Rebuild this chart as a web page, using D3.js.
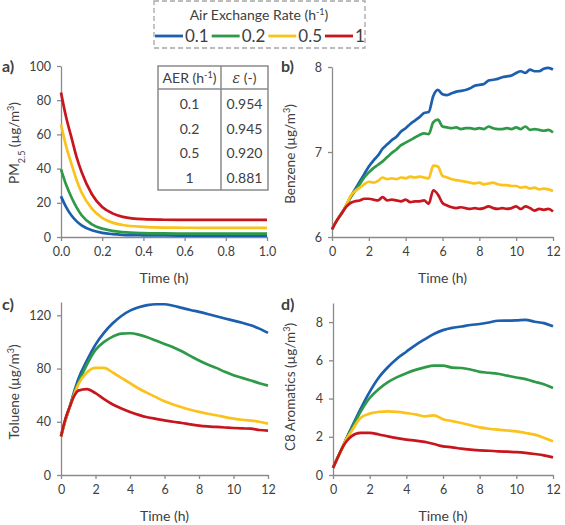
<!DOCTYPE html>
<html>
<head>
<meta charset="utf-8">
<script src="https://cdn.jsdelivr.net/npm/d3@7"></script>
<style>
  body { margin: 0; background: #fff; }
  text { font-family: Lato, "Open Sans", sans-serif; fill: #404040; font-weight: 400; }
</style>
</head>
<body>
<div id="output"></div>
<script>
// Series names / colours
const AER_LABELS = ["0.1", "0.2", "0.5", "1"];
const AER_COLORS = ["#1c5fae", "#2e9a48", "#fbc21c", "#c8161f"];

// Table in panel a
const TABLE_AER = ["0.1", "0.2", "0.5", "1"];
const TABLE_EPS = ["0.954", "0.945", "0.920", "0.881"];

// a) PM2.5 (0..1 h)
const TIME_A = [0, 0.025, 0.05, 0.075, 0.1, 0.15, 0.2, 0.25, 0.3, 0.4, 0.5, 0.6, 0.8, 1.0];
const PM_01 = [23.8, 17.5, 12.7, 9.3, 6.8, 3.9, 2.4, 1.7, 1.3, 1.0, 0.9, 0.8, 0.8, 0.8];
const PM_02 = [39.6, 30.5, 23.4, 17.5, 12.7, 7.4, 4.9, 3.6, 2.9, 2.3, 2.1, 2.0, 2.0, 2.0];
const PM_05 = [65.8, 53, 43, 33.5, 26, 16.6, 11.2, 8.4, 7.0, 5.9, 5.5, 5.4, 5.3, 5.3];
const PM_1 = [84.5, 70, 58.5, 47, 38, 25, 17.5, 13.8, 11.8, 10.4, 10.1, 10.0, 10.0, 10.0];

// b) Benzene (0..12 h, every 0.25 h)
const TIME_B = [0, 0.25, 0.5, 0.75, 1, 1.25, 1.5, 1.75, 2, 2.25, 2.5, 2.75, 3, 3.25, 3.5, 3.75,
  4, 4.25, 4.5, 4.75, 5, 5.25, 5.5, 5.75, 6, 6.25, 6.5, 6.75, 7, 7.25, 7.5, 7.75,
  8, 8.25, 8.5, 8.75, 9, 9.25, 9.5, 9.75, 10, 10.25, 10.5, 10.75, 11, 11.25, 11.5, 11.75, 12];
const BZ_01 = [6.09, 6.19, 6.27, 6.36, 6.47, 6.56, 6.65, 6.74, 6.83, 6.90, 6.96, 7.04, 7.09, 7.14, 7.18, 7.24,
  7.28, 7.33, 7.37, 7.41, 7.46, 7.47, 7.66, 7.73, 7.68, 7.67, 7.69, 7.71, 7.72, 7.73, 7.75, 7.78,
  7.79, 7.80, 7.84, 7.85, 7.86, 7.88, 7.89, 7.90, 7.93, 7.95, 7.93, 7.97, 7.95, 7.95, 7.98, 7.99, 7.97];
const BZ_02 = [6.09, 6.19, 6.27, 6.36, 6.46, 6.54, 6.62, 6.70, 6.76, 6.81, 6.85, 6.89, 6.94, 6.99, 7.03, 7.08,
  7.11, 7.14, 7.17, 7.20, 7.22, 7.21, 7.35, 7.38, 7.30, 7.29, 7.28, 7.29, 7.27, 7.28, 7.28, 7.27,
  7.28, 7.27, 7.30, 7.28, 7.27, 7.27, 7.28, 7.27, 7.29, 7.27, 7.30, 7.26, 7.27, 7.26, 7.25, 7.26, 7.23];
const BZ_05 = [6.09, 6.19, 6.27, 6.36, 6.48, 6.54, 6.58, 6.62, 6.65, 6.64, 6.66, 6.70, 6.68, 6.69, 6.68, 6.70,
  6.69, 6.71, 6.70, 6.71, 6.70, 6.69, 6.84, 6.83, 6.72, 6.70, 6.68, 6.67, 6.66, 6.65, 6.64, 6.63,
  6.64, 6.62, 6.63, 6.64, 6.62, 6.61, 6.61, 6.60, 6.60, 6.58, 6.59, 6.57, 6.58, 6.56, 6.57, 6.56, 6.54];
const BZ_1 = [6.09, 6.19, 6.27, 6.35, 6.40, 6.42, 6.43, 6.45, 6.45, 6.44, 6.43, 6.47, 6.43, 6.44, 6.43, 6.42,
  6.44, 6.41, 6.42, 6.42, 6.43, 6.39, 6.55, 6.50, 6.40, 6.37, 6.35, 6.34, 6.35, 6.34, 6.33, 6.34,
  6.33, 6.34, 6.36, 6.34, 6.33, 6.34, 6.33, 6.34, 6.36, 6.33, 6.36, 6.34, 6.31, 6.33, 6.32, 6.33, 6.30];

// c) Toluene and d) C8 aromatics (0..12 h)
const TIME_CD = [0, 0.25, 0.5, 0.75, 1, 1.5, 2, 2.5, 3, 3.5, 4, 4.5, 5, 5.5, 6, 6.5, 7, 7.5, 8, 8.5, 9, 9.5, 10, 10.5, 11, 11.5, 12];
const TOL_01 = [29, 41, 51, 62, 72, 86, 98, 107, 114, 119.5, 123.5, 126, 127.6, 128.3, 128.3, 127.2, 125.6, 124, 122.6, 121, 119.3, 117.6, 116, 114.4, 112.5, 110, 106.8];
const TOL_02 = [29, 41, 51, 61, 69, 83, 94, 100, 104, 106.3, 106.5, 105.5, 103.5, 101, 98.5, 96, 93, 89.5, 86, 83, 80.5, 77.5, 75, 73, 71, 69, 67.2];
const TOL_05 = [29, 41, 51, 60, 68, 77, 80.5, 80.5, 77, 73, 69, 65, 61.7, 58.5, 55.4, 53, 50.9, 49, 47.4, 46, 44.9, 43.5, 42.4, 41.5, 40.9, 40, 38.6];
const TOL_1 = [29, 42, 51, 59, 63.4, 64.5, 61.5, 57, 53, 50, 47.4, 45.2, 43.4, 42.2, 41.1, 40, 39.1, 38, 37.1, 36.5, 36.1, 35.7, 35.3, 35, 34.8, 33.8, 33.3];

const C8_01 = [0.37, 0.9, 1.41, 1.95, 2.46, 3.45, 4.35, 5.1, 5.65, 6.1, 6.45, 6.8, 7.1, 7.38, 7.58, 7.7, 7.77, 7.85, 7.9, 7.98, 8.07, 8.08, 8.09, 8.12, 8.02, 7.95, 7.78];
const C8_02 = [0.37, 0.9, 1.41, 1.92, 2.37, 3.3, 4.03, 4.5, 4.86, 5.12, 5.33, 5.5, 5.63, 5.72, 5.72, 5.62, 5.6, 5.52, 5.4, 5.35, 5.3, 5.2, 5.1, 5.02, 4.88, 4.75, 4.55];
const C8_05 = [0.37, 0.9, 1.41, 1.9, 2.28, 2.98, 3.21, 3.3, 3.33, 3.3, 3.24, 3.17, 3.07, 3.12, 2.92, 2.82, 2.72, 2.6, 2.49, 2.42, 2.37, 2.33, 2.28, 2.2, 2.11, 1.95, 1.76];
const C8_1 = [0.37, 0.9, 1.41, 1.78, 2.02, 2.2, 2.2, 2.12, 2.02, 1.93, 1.85, 1.8, 1.73, 1.62, 1.5, 1.45, 1.38, 1.33, 1.29, 1.27, 1.24, 1.22, 1.2, 1.16, 1.1, 1.03, 0.92];

const svg = d3.select("#output").append("svg")
  .attr("width", 565)
  .attr("height", 525);

const AXIS_COLOR = "#8a8a8a";

function drawPanel(p) {
  const x = d3.scaleLinear().domain(p.xDomain).range([p.left, p.right]);
  const y = d3.scaleLinear().domain(p.yDomain).range([p.bottom, p.top]);

  const gx = svg.append("g")
    .attr("transform", `translate(0,${p.bottom})`)
    .call(d3.axisBottom(x).tickValues(p.xTicks).tickFormat(p.xFormat).tickSize(4).tickSizeOuter(0).tickPadding(6));
  const gy = svg.append("g")
    .attr("transform", `translate(${p.left},0)`)
    .call(d3.axisLeft(y).tickValues(p.yTicks).tickFormat(p.yFormat).tickSize(4).tickSizeOuter(0).tickPadding(6));

  [gx, gy].forEach(g => {
    g.select(".domain").attr("stroke", AXIS_COLOR).attr("stroke-width", 1.3);
    g.selectAll(".tick line").attr("stroke", AXIS_COLOR).attr("stroke-width", 1.3);
    g.selectAll(".tick text").style("font-size", "12.5px").style("font-family", "Lato, sans-serif").attr("fill", "#404040");
  });

  // Lines
  const line = d3.line()
    .x(d => x(d[0]))
    .y(d => y(d[1]))
    .curve(d3.curveMonotoneX);

  p.series.forEach((vals, i) => {
    svg.append("path")
      .datum(p.time.map((t, j) => [t, vals[j]]))
      .attr("fill", "none")
      .attr("stroke", AER_COLORS[i])
      .attr("stroke-width", 2.7)
      .attr("stroke-linejoin", "round")
      .attr("d", line);
  });

  // X title
  svg.append("text")
    .attr("x", (p.left + p.right) / 2)
    .attr("y", p.bottom + 46)
    .attr("text-anchor", "middle")
    .style("font-size", "14px")
    .style("font-weight", "400")
    .text("Time (h)");

  // Y title
  const yt = svg.append("text")
    .attr("transform", `translate(${p.ylabelX},${p.ylabelY}) rotate(-90)`)
    .attr("text-anchor", "middle")
    .style("font-size", "13.5px");
  yt.append("tspan").text(p.ylabel);
  if (p.sub) {
    yt.append("tspan").attr("baseline-shift", "sub").style("font-size", "9px").text(p.sub);
  }
  yt.append("tspan").text(" (\u00b5g/m");
  yt.append("tspan").attr("baseline-shift", "super").style("font-size", "9px").text("3");
  yt.append("tspan").text(")");

  // Panel letter
  svg.append("text")
    .attr("x", p.letterX)
    .attr("y", p.letterY)
    .style("font-size", "16px")
    .style("font-weight", "bold")
    .attr("fill", "#1a1a1a")
    .text(p.letter);

  return { x, y };
}

// a)
drawPanel({
  left: 61, right: 267, top: 66, bottom: 237,
  xDomain: [0, 1], yDomain: [0, 100],
  xTicks: [0, 0.2, 0.4, 0.6, 0.8, 1.0], xFormat: d3.format(".1f"),
  yTicks: [0, 20, 40, 60, 80, 100], yFormat: d3.format("d"),
  time: TIME_A, series: [PM_01, PM_02, PM_05, PM_1],
  ylabel: "PM", sub: "2.5", ylabelX: 19, ylabelY: 143,
  letter: "a)", letterX: 2, letterY: 72
});

// b)
drawPanel({
  left: 332, right: 553, top: 67, bottom: 237,
  xDomain: [0, 12], yDomain: [6, 8],
  xTicks: [0, 2, 4, 6, 8, 10, 12], xFormat: d3.format("d"),
  yTicks: [6, 7, 8], yFormat: d3.format("d"),
  time: TIME_B, series: [BZ_01, BZ_02, BZ_05, BZ_1],
  ylabel: "Benzene", ylabelX: 295, ylabelY: 154,
  letter: "b)", letterX: 281, letterY: 72
});

// c)
drawPanel({
  left: 61, right: 268, top: 302, bottom: 475,
  xDomain: [0, 12], yDomain: [0, 130],
  xTicks: [0, 2, 4, 6, 8, 10, 12], xFormat: d3.format("d"),
  yTicks: [0, 40, 80, 120], yFormat: d3.format("d"),
  time: TIME_CD, series: [TOL_01, TOL_02, TOL_05, TOL_1],
  ylabel: "Toluene", ylabelX: 19, ylabelY: 392,
  letter: "c)", letterX: 2, letterY: 310
});

// d)
drawPanel({
  left: 333, right: 553, top: 303, bottom: 475,
  xDomain: [0, 12], yDomain: [0, 9],
  xTicks: [0, 2, 4, 6, 8, 10, 12], xFormat: d3.format("d"),
  yTicks: [0, 2, 4, 6, 8], yFormat: d3.format("d"),
  time: TIME_CD, series: [C8_01, C8_02, C8_05, C8_1],
  ylabel: "C8 Aromatics", ylabelX: 295, ylabelY: 387,
  letter: "d)", letterX: 281, letterY: 310
});

// Table in panel a
const tbl = svg.append("g");
const tL = 158, tR = 268, tM = 221, tT = 66, tH = 89, tB = 190;
tbl.append("rect")
  .attr("x", tL).attr("y", tT).attr("width", tR - tL).attr("height", tB - tT)
  .attr("fill", "#fff").attr("stroke", "#8a8a8a").attr("stroke-width", 1.5);
tbl.append("line").attr("x1", tM).attr("x2", tM).attr("y1", tT).attr("y2", tB)
  .attr("stroke", "#8a8a8a").attr("stroke-width", 1.5);
tbl.append("line").attr("x1", tL).attr("x2", tR).attr("y1", tH).attr("y2", tH)
  .attr("stroke", "#8a8a8a").attr("stroke-width", 1.5);

const hdr = tbl.append("text").attr("x", (tL + tM) / 2).attr("y", tT + 17)
  .attr("text-anchor", "middle").style("font-size", "14px");
hdr.append("tspan").text("AER (h");
hdr.append("tspan").attr("baseline-shift", "super").style("font-size", "9px").text("-1");
hdr.append("tspan").text(")");
const hdr2 = tbl.append("text").attr("x", (tM + tR) / 2).attr("y", tT + 17)
  .attr("text-anchor", "middle").style("font-size", "14px");
hdr2.append("tspan").style("font-style", "italic").style("font-family", "'DejaVu Serif', serif").text("\u03b5");
hdr2.append("tspan").text(" (-)");

const rowY = d3.scalePoint().domain(TABLE_AER).range([104, 178]);
TABLE_AER.forEach((a, i) => {
  tbl.append("text").attr("x", (tL + tM) / 2).attr("y", rowY(a) + 5)
    .attr("text-anchor", "middle").style("font-size", "14px").text(a);
  tbl.append("text").attr("x", (tM + tR) / 2).attr("y", rowY(a) + 5)
    .attr("text-anchor", "middle").style("font-size", "14px").text(TABLE_EPS[i]);
});

// Legend
const lg = svg.append("g");
lg.append("rect")
  .attr("x", 154).attr("y", 1).attr("width", 211).attr("height", 47)
  .attr("fill", "#fff").attr("stroke", "#a6a6a6").attr("stroke-width", 1.3)
  .attr("stroke-dasharray", "5,3");
const lt = lg.append("text").attr("x", 259).attr("y", 20)
  .attr("text-anchor", "middle").style("font-size", "14px");
lt.append("tspan").text("Air Exchange Rate (h");
lt.append("tspan").attr("baseline-shift", "super").style("font-size", "9px").text("-1");
lt.append("tspan").text(")");

const legX = d3.scalePoint().domain(AER_LABELS).range([155, 325]);
AER_LABELS.forEach((lab, i) => {
  const x0 = legX(lab);
  lg.append("line")
    .attr("x1", x0).attr("x2", x0 + 28).attr("y1", 36).attr("y2", 36)
    .attr("stroke", AER_COLORS[i]).attr("stroke-width", 2.8);
  lg.append("text")
    .attr("x", x0 + 30).attr("y", 42)
    .style("font-size", "17px")
    .text(lab);
});
</script>
</body>
</html>
